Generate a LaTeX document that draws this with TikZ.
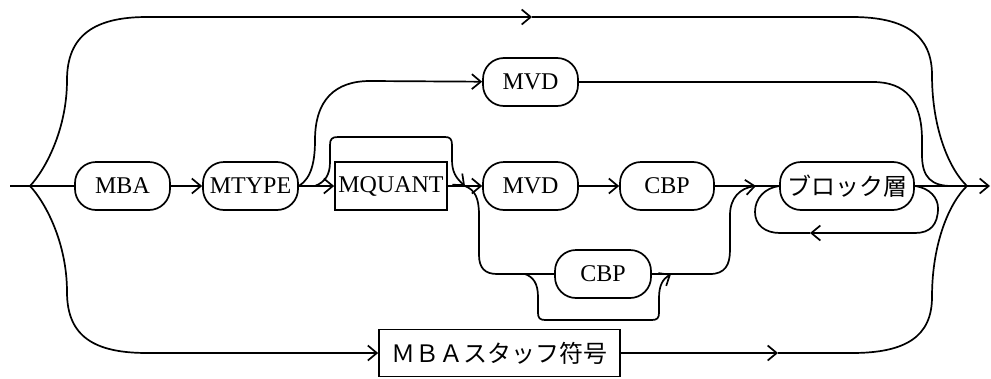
\documentclass[tikz,border=0pt]{standalone}
\usepackage{fontspec}
\setmainfont{Liberation Serif}
\newfontfamily\jp{Noto Sans CJK JP}
\usetikzlibrary{arrows.meta}
\begin{document}
\begin{tikzpicture}[x=1pt,y=-1pt,line width=1.7pt,
  arr/.style={-{Straight Barb[length=9pt,width=15pt]}},
  rnd/.style={draw,rectangle,rounded corners=21pt,minimum height=48pt,minimum width=95pt,inner sep=2pt,font=\fontsize{24}{26}\selectfont},
  sq/.style={draw,rectangle,minimum height=48pt,inner sep=2pt,font=\fontsize{24}{26}\selectfont}]
\useasboundingbox (0,0) rectangle (991,378);
% nodes
\node[rnd] (mba) at (122.5,186) {MBA};
\node[rnd] (mtype) at (250.5,186) {MTYPE};
\node[sq,minimum width=112pt] (mquant) at (391,186) {MQUANT};
\node[rnd] (mvdt) at (530.5,82) {MVD};
\node[rnd] (mvd) at (530.5,186) {MVD};
\node[rnd,minimum width=94pt] (cbp) at (667,186) {CBP};
\node[rnd,minimum width=134pt] (blk) at (847,186) {\jp ブロック層};
\node[rnd,minimum width=96pt] (cbp2) at (603,274) {CBP};
\node[sq,minimum width=241pt,minimum height=47pt] (staff) at (499.5,353) {\jp ＭＢＡスタッフ符号};
% coordinates
\coordinate (s) at (10,186);
\coordinate (j1) at (30,186);
\coordinate (j2) at (967,186);
\coordinate (e) at (990,186);
\coordinate (ta) at (532,17);
\coordinate (ba) at (778,353);
\coordinate (q1) at (315,186);
\coordinate (q2) at (465,186);
\coordinate (c1) at (525,274);
\coordinate (c2) at (671,274);
\coordinate (m1) at (756,186);
\coordinate (la) at (810,233);
% main line
\draw (s) -- (j1) -- (mba);
\draw[arr] (mba) -- (mtype);
\draw[arr] (mtype) -- (mquant);
\draw[arr] (mquant) -- (mvd);
\draw[arr] (mvd) -- (cbp);
\draw (cbp) -- (blk);
\draw[arr] (blk) -- (j2) -- (e);
% top path
\draw[arr] (j1) .. controls (45,170) and (67,130) .. (67,80) .. controls (67,35) and (95,17) .. (147,17) -- (ta);
\draw (ta) -- (852,17) .. controls (905,17) and (932,35) .. (932,75) .. controls (932,130) and (950,170) .. (j2);
% bottom path
\draw[arr] (j1) .. controls (45,202) and (67,242) .. (67,292) .. controls (67,337) and (95,353) .. (147,353) -- (staff);
\draw[arr] (staff) -- (ba);
\draw (ba) -- (852,353) .. controls (905,353) and (932,337) .. (932,297) .. controls (932,242) and (950,202) .. (j2);
% MVD top branch
\draw[arr] (mtype.east) .. controls (312,178) and (315,160) .. (315,140) .. controls (315,100) and (335,81) .. (370,81) -- (mvdt);
\draw (mvdt) -- (873,82) .. controls (905,82) and (922,100) .. (922,140) -- (922,155) .. controls (922,178) and (932,186) .. (952,186);
% MQUANT bypass
\draw[arr] (q1) .. controls (325,182) and (330,175) .. (330,162) -- (330,145) .. controls (330,139) and (332,137) .. (338,137) -- (445,137) .. controls (450,137) and (452,139) .. (452,145) -- (452,160) .. controls (452,172) and (456,178) .. (q2);
% lower branch
\draw (q2) .. controls (475,190) and (479,198) .. (479,215) -- (479,255) .. controls (479,268) and (485,274) .. (497,274) -- (cbp2);
% CBP bypass
\draw[arr] (c1) .. controls (533,277) and (538,283) .. (538,297) -- (538,313) .. controls (538,318) and (540,320) .. (545,320) -- (652,320) .. controls (657,320) and (659,318) .. (659,313) -- (659,298) .. controls (659,285) and (663,279) .. (c2);
\draw[arr] (cbp2) -- (710,274) .. controls (725,274) and (730,265) .. (730,250) -- (730,215) .. controls (730,198) and (740,188) .. (m1);
% loop
\draw[arr] (blk.east) .. controls (930,188) and (938,198) .. (938,208) .. controls (938,225) and (930,233) .. (915,233) -- (la);
\draw (la) -- (780,233) .. controls (765,233) and (755,225) .. (755,212) .. controls (755,198) and (765,188) .. (blk.west);
\end{tikzpicture}
\end{document}
